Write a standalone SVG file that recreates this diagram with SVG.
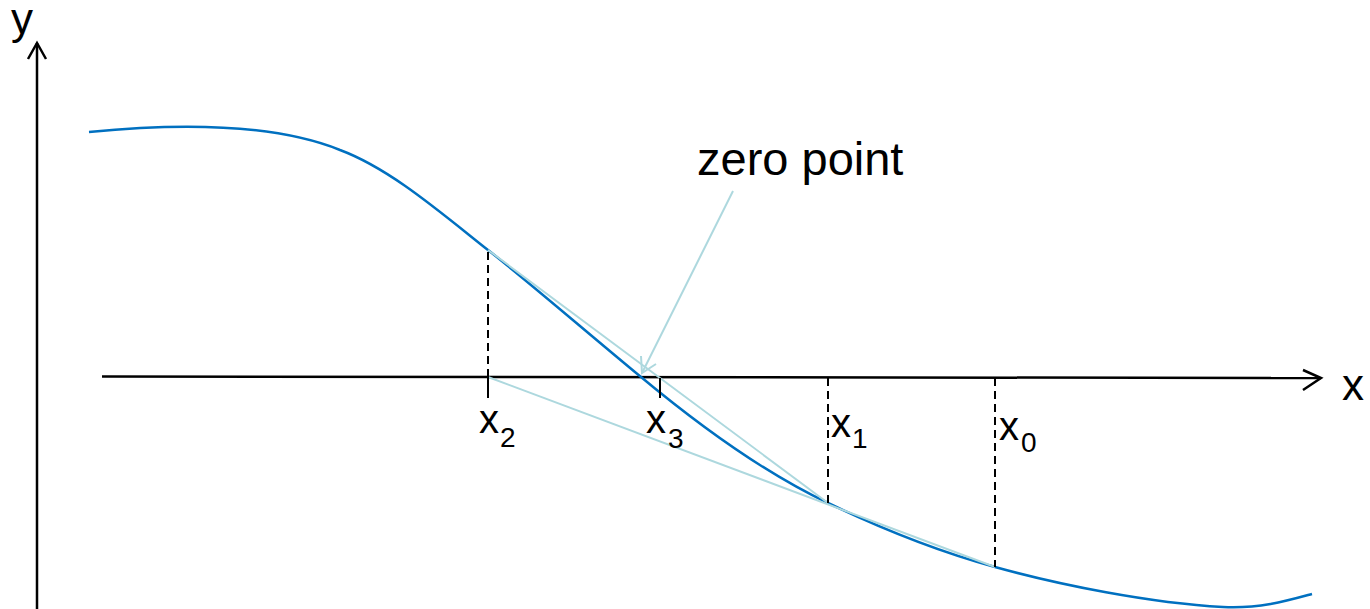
<svg xmlns="http://www.w3.org/2000/svg" width="1370" height="609" viewBox="0 0 1370 609">
<style>
.axis{stroke:#000;stroke-width:2.5;fill:none}
.dash{stroke:#000;stroke-width:2;stroke-dasharray:8 5;fill:none}
.tick{stroke:#000;stroke-width:2;fill:none}
.curve{stroke:#0070C0;stroke-width:2.5;fill:none}
.light{stroke:#ADD8DE;stroke-width:2;fill:none}
.lbl{font-family:"Liberation Sans",Arial,sans-serif;fill:#000}
</style>
<rect width="1370" height="609" fill="#fff"/>
<g id="axes">
  <line class="axis" x1="37" y1="609" x2="37" y2="43"/>
  <polyline class="axis" points="28,59 37,43 46,59"/>
  <line class="axis" x1="102" y1="376.5" x2="1321" y2="378"/>
  <polyline class="axis" points="1303,370 1321,378 1303,390"/>
  <text class="lbl" x="11" y="34" font-size="44">y</text>
  <text class="lbl" x="1342" y="400" font-size="44">x</text>
</g>
<g id="curve">
  <path class="curve" d="M89,132 C170,124 270,122 340,150 C390,168.6 440,212 488,250 C530,283 590,335 641,377 C683,412 752,467 828,503 C880,528 940,552 995,567 C1060,585 1150,603 1223,607 C1260,609 1290,600 1312,594"/>
</g>
<g id="secants">
  <line class="light" x1="488" y1="250" x2="828" y2="503"/>
  <line class="light" x1="488" y1="377" x2="995" y2="567"/>
</g>
<g id="guides">
  <line class="dash" x1="488" y1="377" x2="488" y2="250"/>
  <line class="tick" x1="488" y1="377" x2="488" y2="398"/>
  <line class="tick" x1="660" y1="378" x2="660" y2="398"/>
  <line class="dash" x1="828" y1="378" x2="828" y2="503"/>
  <line class="dash" x1="995" y1="378" x2="995" y2="567"/>
</g>
<g id="labels">
  <text class="lbl" x="479" y="433" font-size="40">x</text><text class="lbl" x="500" y="447" font-size="28">2</text>
  <text class="lbl" x="646" y="433" font-size="40">x</text><text class="lbl" x="668" y="448" font-size="28">3</text>
  <text class="lbl" x="831" y="437" font-size="40">x</text><text class="lbl" x="852" y="448" font-size="28">1</text>
  <text class="lbl" x="999" y="440" font-size="40">x</text><text class="lbl" x="1021" y="452" font-size="28">0</text>
</g>
<g id="zero-point">
  <text class="lbl" x="697" y="175" font-size="47">zero point</text>
  <line class="light" x1="733" y1="191" x2="642" y2="373"/>
  <polyline class="light" points="641,356 642,373 656,364"/>
</g>
</svg>
